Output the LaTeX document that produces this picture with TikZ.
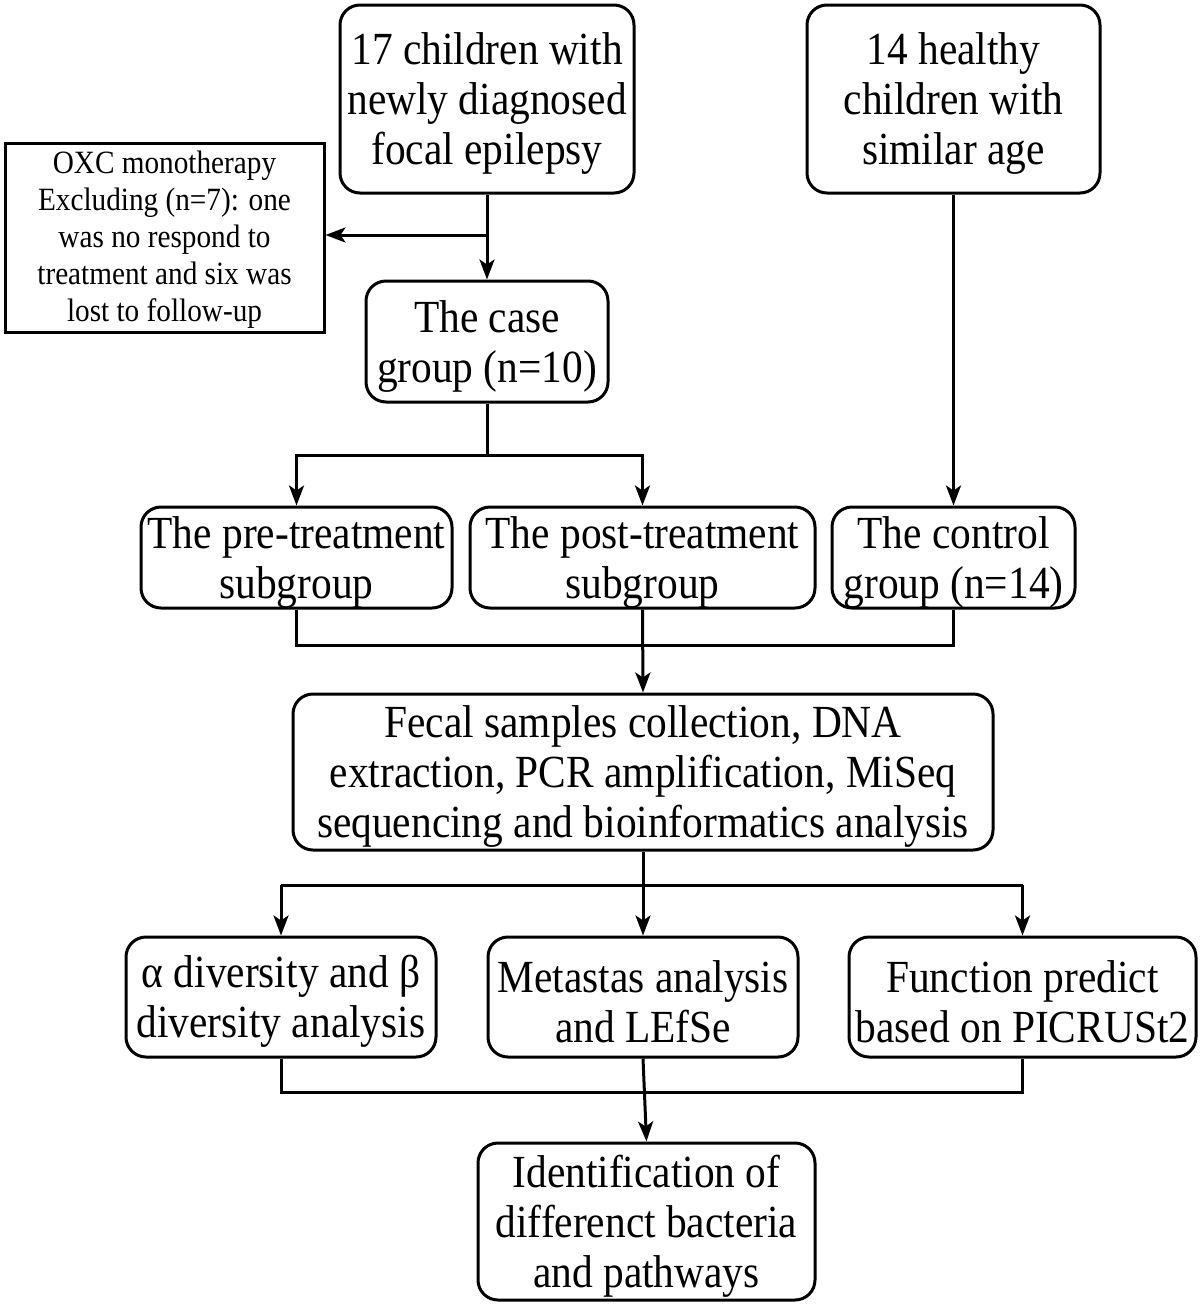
\documentclass[tikz,border=0pt]{standalone}
\usepackage{fontspec}
\setmainfont{Liberation Serif}[FakeStretch=0.9]
\usetikzlibrary{arrows.meta}
\newcommand\mytop{\rule{0pt}{41pt}}
\newcommand\mytopsm{\rule{0pt}{26pt}}
\tikzset{
  box/.style={draw, line width=3pt, rounded corners=20pt, align=center, inner sep=0pt,
    font=\fontsize{46}{50}\selectfont},
  sqbox/.style={draw, line width=3pt, align=center, inner sep=0pt,
    font=\fontsize{32.5}{37}\selectfont},
  conn/.style={line width=3pt},
  arr/.style={line width=3pt, -{Stealth[length=20pt,width=15pt,inset=5pt]}}
}
\begin{document}
\begin{tikzpicture}[x=1pt,y=-1pt]
\useasboundingbox (0,0) rectangle (1200,1304);
\node[box, minimum width=294pt, minimum height=188pt] (b1) at (487,99) {\mytop 17 children with\\newly diagnosed\\focal epilepsy};
\node[box, minimum width=293pt, minimum height=188pt] (b2) at (953.5,99) {\mytop 14 healthy\\children with\\similar age};
\node[sqbox, minimum width=319pt, minimum height=189pt] (b3) at (164.5,237.5) {\mytopsm OXC monotherapy\\Excluding (n=7): one\\was no respond to\\treatment and six was\\lost to follow-up};
\node[box, minimum width=242pt, minimum height=121pt] (b4) at (487,341.5) {\mytop The case\\group (n=10)};
\node[box, minimum width=311pt, minimum height=101pt] (b5) at (296.5,557.5) {\mytop The pre-treatment\\subgroup};
\node[box, minimum width=345pt, minimum height=101pt] (b6) at (642.5,557.5) {\mytop The post-treatment\\subgroup};
\node[box, minimum width=243pt, minimum height=101pt] (b7) at (953.5,557.5) {\mytop The control\\group (n=14)};
\node[box, minimum width=700pt, minimum height=156pt] (b8) at (643,772) {\mytop Fecal samples collection, DNA\\extraction, PCR amplification, MiSeq\\sequencing and bioinformatics analysis};
\node[box, minimum width=310pt, minimum height=120pt] (b9) at (281,997) {\mytop α diversity and β\\diversity analysis};
\node[box, minimum width=310pt, minimum height=120pt] (b10) at (643,997) {\mytop Metastas analysis\\and LEfSe};
\node[box, minimum width=347pt, minimum height=120pt] (b11) at (1022.5,997) {\mytop Function predict\\based on PICRUSt2};
\node[box, minimum width=337pt, minimum height=157pt] (b12) at (646.5,1221.5) {\mytop Identification of\\differenct bacteria\\and pathways};

\coordinate (j1) at (487,235);
\coordinate (j2) at (487,455);
\coordinate (j3) at (642,645);
\coordinate (j4) at (643,885);
\coordinate (j5) at (643,1092);

\draw[arr] (b1.south) -- (b4.north);
\draw[arr] (j1) -- (j1 -| b3.east);
\draw[conn] (b4.south) -- (j2);
\draw[arr] (j2) -| (b5.north);
\draw[arr] (j2) -| (b6.north);
\draw[arr] (b2.south) -- (b7.north);
\draw[conn] (b5.south) |- (b7.south |- j3) -- (b7.south);
\draw[arr] (b6.south) -- (b8.north);
\draw[conn] (b9.north |- j4) -- (b11.north |- j4);
\draw[arr] (b8.south) -- (b10.north);
\draw[arr] (b9.north |- j4) -- (b9.north);
\draw[arr] (b11.north |- j4) -- (b11.north);
\draw[conn] (b9.south) |- (b11.south |- j5) -- (b11.south);
\draw[arr] (b10.south) -- (b12.north);
\end{tikzpicture}
\end{document}
